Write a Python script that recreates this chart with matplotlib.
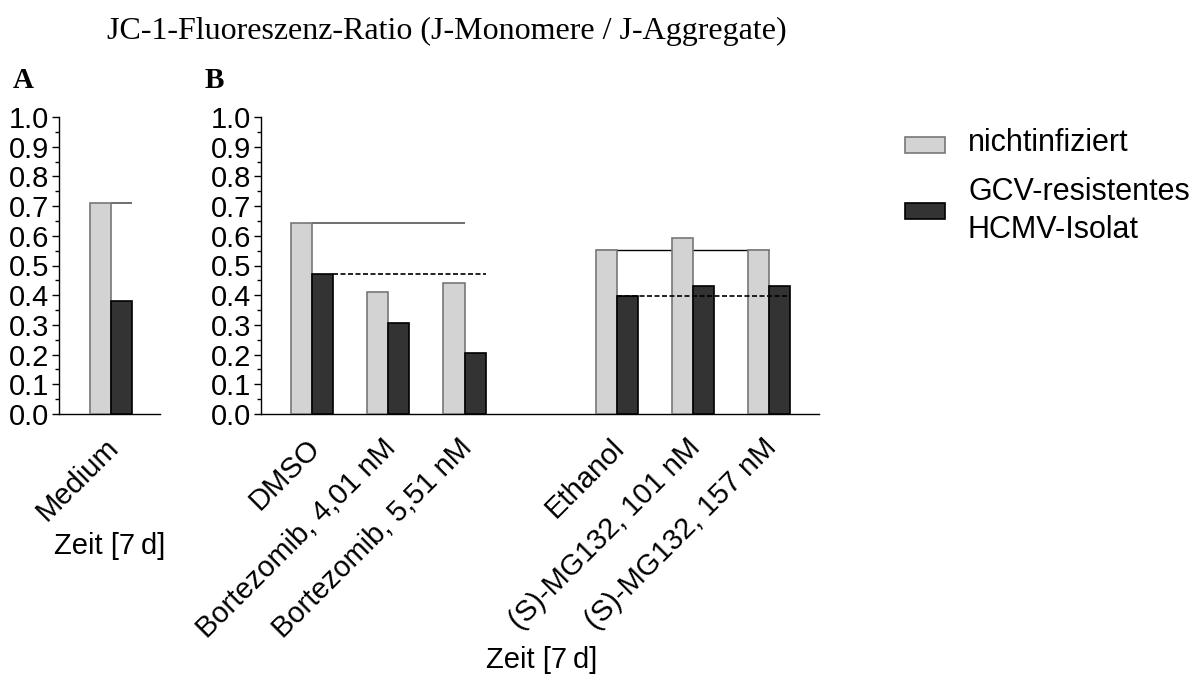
import matplotlib
matplotlib.use("Agg")
import matplotlib.pyplot as plt
import matplotlib.transforms as mtransforms
from matplotlib.patches import Rectangle

# -------------------------------
# DATA
# -------------------------------
cats_a = ["Medium"]
uninf_a = [0.71]
hcmv_a = [0.38]

cats_b = ["DMSO", "Bortezomib, 4,01 nM", "Bortezomib, 5,51 nM",
          "Ethanol", "(S)-MG132, 101 nM", "(S)-MG132, 157 nM"]
pos_b = [0, 1, 2, 4, 5, 6]
uninf_b = [0.643, 0.41, 0.44, 0.552, 0.594, 0.552]
hcmv_b = [0.471, 0.306, 0.205, 0.397, 0.43, 0.43]

legend_labels = ["nichtinfiziert", "GCV-resistentes\nHCMV-Isolat"]

LIGHT = "#d3d3d3"
DARK = "#333333"
W = 0.276

plt.rcParams["font.family"] = ["Liberation Sans", "DejaVu Sans"]
plt.rcParams["font.size"] = 21

fig = plt.figure(figsize=(12, 6.79), dpi=100)

def px_axes(left, right, top, bottom):
    return fig.add_axes([left / 1200, (679 - bottom) / 679,
                         (right - left) / 1200, (bottom - top) / 679])

def style(ax):
    for s in ["top", "right"]:
        ax.spines[s].set_visible(False)
    ax.spines["left"].set_linewidth(1.0)
    ax.spines["bottom"].set_linewidth(1.0)
    ax.set_ylim(0, 1.0)
    ax.set_yticks([i / 10 for i in range(11)])
    ax.set_yticklabels([f"{i / 10:.1f}" for i in range(11)])
    ax.set_yticks([i / 20 for i in range(1, 20, 2)], minor=True)
    ax.tick_params(axis="y", which="major", length=5, width=1, pad=2)
    ax.tick_params(axis="y", which="minor", length=3, width=1)
    ax.tick_params(axis="x", length=0, pad=14)

def draw_bars(ax, pos, u, h):
    ax.bar([p - W / 2 for p in pos], u, width=W, color=LIGHT,
           edgecolor="#777777", linewidth=1.2, zorder=3)
    ax.bar([p + W / 2 for p in pos], h, width=W, color=DARK,
           edgecolor="black", linewidth=1.2, zorder=3)

def xlabels(ax, pos, cats):
    ax.set_xticks(pos)
    ax.set_xticklabels(cats, rotation=45, ha="right", va="top")
    off = mtransforms.ScaledTranslation(13 / 100, 0, fig.dpi_scale_trans)
    for lab in ax.get_xticklabels():
        lab.set_transform(lab.get_transform() + off)

# -------------------------------
# PANEL A
# -------------------------------
axA = px_axes(59, 160, 117, 414)
style(axA)
draw_bars(axA, [0], uninf_a, hcmv_a)
axA.set_xlim(-0.68, 0.64)
axA.hlines(uninf_a[0], 0, W, color="#555555", lw=1.2, zorder=2)
xlabels(axA, [0], cats_a)

# -------------------------------
# PANEL B
# -------------------------------
axB = px_axes(261, 819, 117, 414)
style(axB)
draw_bars(axB, pos_b, uninf_b, hcmv_b)
axB.set_xlim(-0.67, 6.65)
axB.hlines(uninf_b[0], 0, 2, color="#555555", lw=1.2, zorder=2)
axB.hlines(hcmv_b[0], W, 2 + W, color="black", lw=1.2, ls=(0, (3, 1.5)), zorder=4)
axB.hlines(uninf_b[3], 4 - W, 6, color="black", lw=1.0, zorder=2)
axB.hlines(hcmv_b[3], 4, 6 + W, color="black", lw=1.2, ls=(0, (3, 1.5)), zorder=4)
xlabels(axB, pos_b, cats_b)

# -------------------------------
# TEXTS
# -------------------------------
fig.text(447 / 1200, 1 - 31 / 679, "JC-1-Fluoreszenz-Ratio (J-Monomere / J-Aggregate)",
         family="Liberation Serif", fontsize=23, ha="center", va="center")
fig.text(13 / 1200, 1 - 81 / 679, "A", family="Liberation Serif",
         fontweight="bold", fontsize=21, ha="left", va="center")
fig.text(205 / 1200, 1 - 81 / 679, "B", family="Liberation Serif",
         fontweight="bold", fontsize=21, ha="left", va="center")
fig.text(110 / 1200, 1 - 546 / 679, "Zeit [7\u2009d]", ha="center", va="center")
fig.text(542 / 1200, 1 - 660 / 679, "Zeit [7\u2009d]", ha="center", va="center")

# legend drawn by hand for exact placement
leg_patch_y = [137, 203]
leg_text_y = [143, 211]
for (c, ec), py, ty, lab in zip([(LIGHT, "#777777"), (DARK, "black")],
                                leg_patch_y, leg_text_y, legend_labels):
    fig.patches.append(Rectangle((905 / 1200, 1 - (py + 16) / 679), 40 / 1200, 16 / 679,
                                 transform=fig.transFigure, facecolor=c,
                                 edgecolor=ec, linewidth=1.2))
    fig.text(968 / 1200, 1 - ty / 679, lab, fontsize=22, ha="left", va="center",
             linespacing=1.35)

fig.savefig("out.png", dpi=100)
